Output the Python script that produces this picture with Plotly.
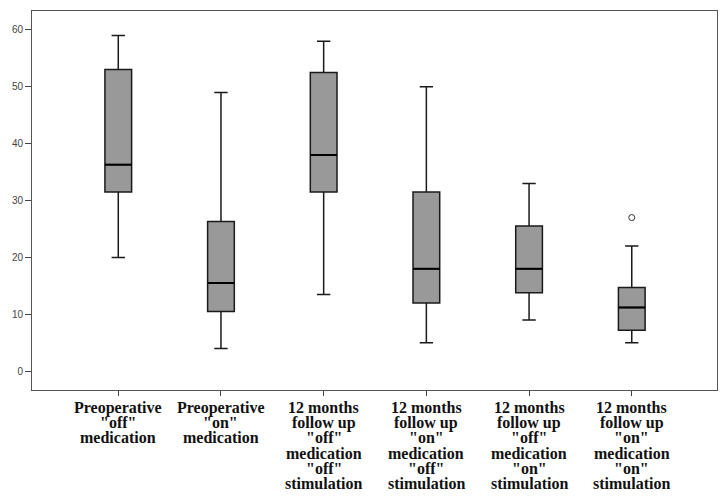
import plotly.graph_objects as go

categories = [
    'Preoperative<br>"off"<br>medication',
    'Preoperative<br>"on"<br>medication',
    '12 months<br>follow up<br>"off"<br>medication<br>"off"<br>stimulation',
    '12 months<br>follow up<br>"on"<br>medication<br>"off"<br>stimulation',
    '12 months<br>follow up<br>"off"<br>medication<br>"on"<br>stimulation',
    '12 months<br>follow up<br>"on"<br>medication<br>"on"<br>stimulation',
]
lower_fence = [20, 4, 13.5, 5, 9, 5]
q1 = [31.5, 10.5, 31.5, 12, 13.8, 7.2]
median = [36.3, 15.5, 38, 18, 18, 11.2]
q3 = [53, 26.3, 52.5, 31.5, 25.5, 14.7]
upper_fence = [59, 49, 58, 50, 33, 22]
outlier_x = [5]
outlier_y = [27]
y_ticks = [0, 10, 20, 30, 40, 50, 60]

positions = list(range(len(categories)))
box_w = 0.26

fig = go.Figure()
fig.add_trace(go.Box(
    x=positions, q1=q1, median=median, q3=q3,
    lowerfence=lower_fence, upperfence=upper_fence,
    width=box_w, whiskerwidth=0.5,
    fillcolor="#999999", line=dict(color="#1a1a1a", width=1.5),
    boxpoints=False, showlegend=False, hoverinfo="skip",
))
fig.add_trace(go.Scatter(
    x=outlier_x, y=outlier_y, mode="markers",
    marker=dict(symbol="circle-open", size=6, color="#333333", line=dict(width=1)),
    showlegend=False,
))

# thicker median lines
for p, m in zip(positions, median):
    fig.add_shape(type="line", x0=p - box_w / 2, x1=p + box_w / 2, y0=m, y1=m,
                  xref="x", yref="y", line=dict(color="black", width=2))

# multi-line category labels with tight spacing
for p, lab in zip(positions, categories):
    for j, line in enumerate(lab.split("<br>")):
        fig.add_annotation(
            x=p, y=0, xref="x", yref="paper", text="<b>" + line + "</b>",
            showarrow=False, yanchor="top", yshift=-7 - 15.2 * j,
            font=dict(family="Liberation Serif", size=16, color="#111111"),
        )

fig.update_layout(
    width=726, height=496,
    margin=dict(l=32, r=9, t=11, b=106, autoexpand=False),
    plot_bgcolor="white", paper_bgcolor="white",
    xaxis=dict(range=[-0.84, 5.83], tickvals=positions, showticklabels=False,
               ticks="outside", ticklen=5, tickcolor="#444", showgrid=False,
               zeroline=False, showline=True, linecolor="#555", mirror=True,
               automargin=False),
    yaxis=dict(range=[-3.3, 63.3], tickvals=y_ticks, ticks="outside", ticklen=6,
               tickcolor="#444", showgrid=False, zeroline=False, showline=True,
               linecolor="#555", mirror=True, automargin=False,
               tickfont=dict(family="Liberation Sans", size=10, color="#444")),
)

fig.write_html("out.html", config={"displayModeBar": False},
               post_script="document.body.style.margin='0';document.body.style.overflow='hidden';")
